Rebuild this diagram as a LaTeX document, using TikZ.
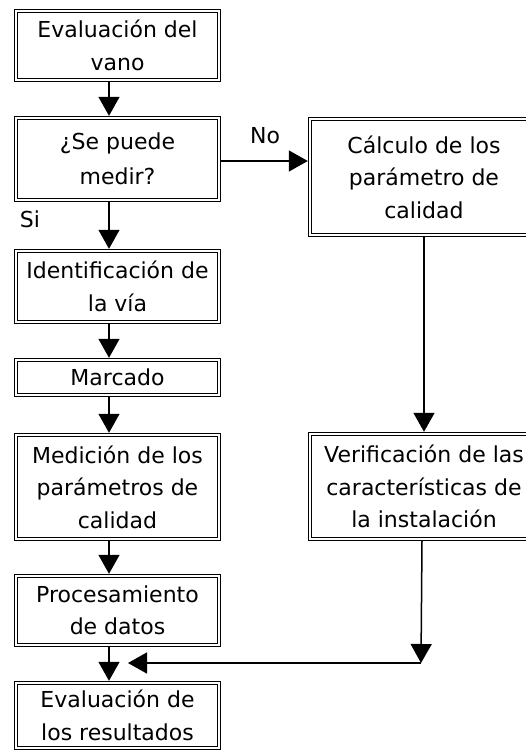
\documentclass[tikz,border=0pt]{standalone}
\usepackage{fontspec}
\setmainfont{DejaVu Sans}
\usetikzlibrary{arrows.meta}
\tikzset{
  box/.style={draw=black, line width=1.3pt, double=white, double distance=1.6pt,
    inner sep=0pt, outer sep=2.2pt, align=center, fill=white,
    font=\fontsize{22}{32.5}\selectfont},
  lbox/.style={box, minimum width=203pt},
  rbox/.style={box, minimum width=228pt},
  conn/.style={line width=1.5pt, -{Triangle[length=19pt,width=21pt]}},
  lab/.style={inner sep=0pt, font=\fontsize{22}{25}\selectfont}
}
\begin{document}
\begin{tikzpicture}[x=1pt,y=-1pt]
\clip (0,0) rectangle (526,753);
\fill[white] (0,0) rectangle (526,753);
% left column
\node[lbox, minimum height=69pt]  (ev)   at (117.5,45.5)  {Evaluación del\\vano};
\node[lbox, minimum height=82pt]  (med)  at (117.5,159)   {¿Se puede\\[2pt]medir?};
\node[lbox, minimum height=71pt]  (id)   at (117.5,286.5) {Identificación de\\la vía};
\node[lbox, minimum height=35pt]  (mar)  at (117.5,377.5) {Marcado};
\node[lbox, minimum height=104pt] (medi) at (117.5,487)   {Medición de los\\parámetros de\\calidad};
\node[lbox, minimum height=69pt]  (proc) at (117.5,610.5) {Procesamiento\\de datos};
\node[lbox, minimum height=65pt]  (evr)  at (117.5,715.5) {Evaluación de\\los resultados};
% right column
\node[rbox, minimum height=116pt] (cal)  at (424,177)   {Cálculo de los\\parámetro de\\calidad};
\node[rbox, minimum height=105pt] (ver)  at (424,486.5) {Verificación de las\\características de\\la instalación};
% labels
\node[lab] (no) at (265,136) {No};
\node[lab] (si) at (30,219) {Si};
% connectors
\draw[conn] ([xshift=-8.5pt]ev.south)   -- ([xshift=-8.5pt]med.north);
\draw[conn] ([xshift=-8.5pt]med.south)  -- ([xshift=-8.5pt]id.north);
\draw[conn] ([xshift=-8.5pt]id.south)   -- ([xshift=-8.5pt]mar.north);
\draw[conn] ([xshift=-8.5pt]mar.south)  -- ([xshift=-8.5pt]medi.north);
\draw[conn] ([xshift=-8.5pt]medi.south) -- ([xshift=-8.5pt]proc.north);
\draw[conn] ([xshift=-8.5pt]proc.south) -- ([xshift=-8.5pt]evr.north);
\draw[conn] ([yshift=-2pt]med.east) -- ([yshift=-2pt]med.east -| cal.west);
\draw[conn] (cal.south) -- (ver.north);
\coordinate (jn) at (421,663);
\coordinate (tip) at (128,663);
\draw[conn] ([xshift=-2pt]ver.south) -- (jn);
\draw[conn] (jn) -- (tip);
\end{tikzpicture}
\end{document}
